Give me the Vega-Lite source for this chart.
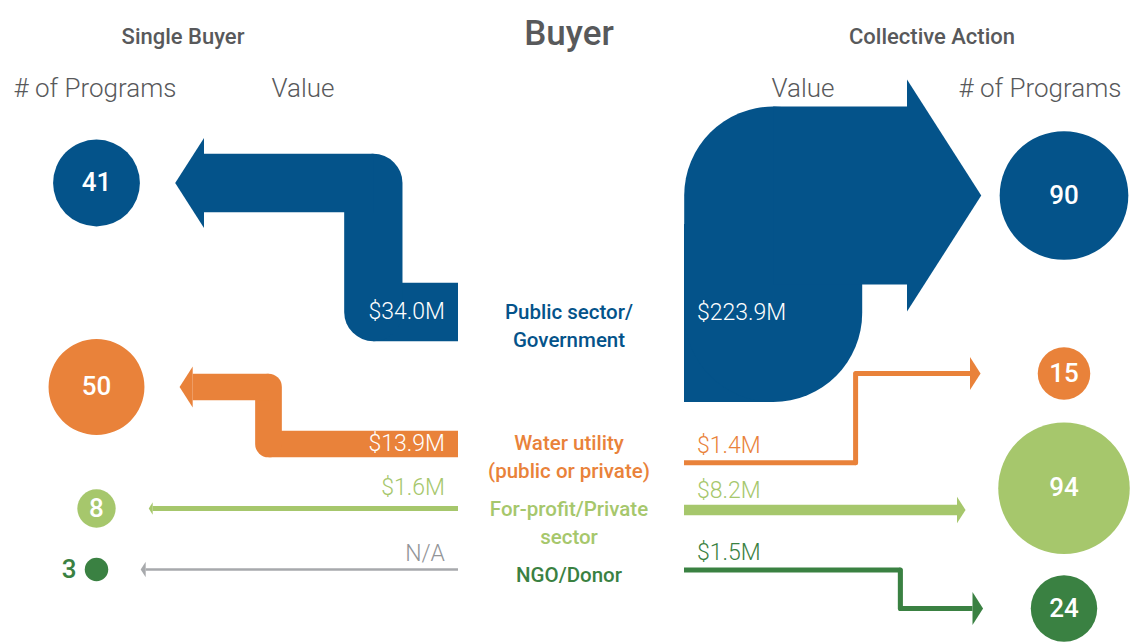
{
"$schema": "https://vega.github.io/schema/vega-lite/v6.json",
"width": 1135, "height": 643,
"autosize": {"type": "none"}, "padding": 0,
"background": "#ffffff",
"config": {"view": {"stroke": null}, "axis": {"disable": true}, "legend": {"disable": true}},
"datasets": {
  "flows": [
    {"side": "Single Buyer", "buyer": "Public sector/Government", "programs": 41, "value": 34.0, "valueText": "$34.0M"},
    {"side": "Single Buyer", "buyer": "Water utility (public or private)", "programs": 50, "value": 13.9, "valueText": "$13.9M"},
    {"side": "Single Buyer", "buyer": "For-profit/Private sector", "programs": 8, "value": 1.6, "valueText": "$1.6M"},
    {"side": "Single Buyer", "buyer": "NGO/Donor", "programs": 3, "value": null, "valueText": "N/A"},
    {"side": "Collective Action", "buyer": "Public sector/Government", "programs": 90, "value": 223.9, "valueText": "$223.9M"},
    {"side": "Collective Action", "buyer": "Water utility (public or private)", "programs": 15, "value": 1.4, "valueText": "$1.4M"},
    {"side": "Collective Action", "buyer": "For-profit/Private sector", "programs": 94, "value": 8.2, "valueText": "$8.2M"},
    {"side": "Collective Action", "buyer": "NGO/Donor", "programs": 24, "value": 1.5, "valueText": "$1.5M"}
  ],
  "buyers": [
    {"buyer": "Public sector/Government", "lines": ["Public sector/", "Government"]},
    {"buyer": "Water utility (public or private)", "lines": ["Water utility", "(public or private)"]},
    {"buyer": "For-profit/Private sector", "lines": ["For-profit/Private", "sector"]},
    {"buyer": "NGO/Donor", "lines": ["NGO/Donor"]}
  ],
  "headings": [
    {"text": "Single Buyer", "kind": "side", "side": "Single Buyer"},
    {"text": "Buyer", "kind": "title", "side": "Buyer"},
    {"text": "Collective Action", "kind": "side", "side": "Collective Action"},
    {"text": "# of Programs", "kind": "column", "side": "Single Buyer"},
    {"text": "Value", "kind": "column", "side": "Single Buyer"},
    {"text": "Value", "kind": "column", "side": "Collective Action"},
    {"text": "# of Programs", "kind": "column", "side": "Collective Action"}
  ]
},
"data": {"name": "flows"},
"resolve": {"scale": {"x": "independent", "y": "independent", "size": "independent"}},
"layer": [
  {"data": {"name": "headings"}, "transform": [{"filter": {"field": "kind", "equal": "side"}}],
   "mark": {"type": "text", "font": "Roboto, sans-serif", "fontWeight": 500, "fontSize": 22, "baseline": "alphabetic", "color": "#58595b"},
   "encoding": {
     "x": {"field": "text", "type": "nominal", "scale": {"type": "point", "domain": ["Single Buyer", "Collective Action"], "range": [183, 932], "padding": 0}},
     "y": {"field": "kind", "type": "nominal", "scale": {"type": "point", "domain": ["side"], "range": [44, 44], "padding": 0}},
     "text": {"field": "text", "type": "nominal"}}},
  {"data": {"name": "headings"}, "transform": [{"filter": {"field": "kind", "equal": "title"}}],
   "mark": {"type": "text", "font": "Roboto, sans-serif", "fontWeight": 500, "fontSize": 35, "baseline": "alphabetic", "color": "#58595b"},
   "encoding": {
     "x": {"field": "text", "type": "nominal", "scale": {"type": "point", "domain": ["Buyer"], "range": [569, 569], "padding": 0}},
     "y": {"field": "kind", "type": "nominal", "scale": {"type": "point", "domain": ["title"], "range": [45, 45], "padding": 0}},
     "text": {"field": "text", "type": "nominal"}}},
  {"data": {"name": "headings"}, "transform": [{"filter": {"and": [{"field": "kind", "equal": "column"}, {"field": "side", "equal": "Single Buyer"}]}}],
   "mark": {"type": "text", "font": "Roboto, Open Sans, sans-serif", "fontWeight": 300, "fontSize": 26, "baseline": "alphabetic", "color": "#58595b"},
   "encoding": {
     "x": {"field": "text", "type": "nominal", "scale": {"type": "point", "domain": ["# of Programs", "Value"], "range": [95, 303], "padding": 0}},
     "y": {"field": "kind", "type": "nominal", "scale": {"type": "point", "domain": ["column"], "range": [96.5, 96.5], "padding": 0}},
     "text": {"field": "text", "type": "nominal"}}},
  {"data": {"name": "headings"}, "transform": [{"filter": {"and": [{"field": "kind", "equal": "column"}, {"field": "side", "equal": "Collective Action"}]}}],
   "mark": {"type": "text", "font": "Roboto, Open Sans, sans-serif", "fontWeight": 300, "fontSize": 26, "baseline": "alphabetic", "color": "#58595b"},
   "encoding": {
     "x": {"field": "text", "type": "nominal", "scale": {"type": "point", "domain": ["Value", "# of Programs"], "range": [803, 1040], "padding": 0}},
     "y": {"field": "kind", "type": "nominal", "scale": {"type": "point", "domain": ["column"], "range": [96.5, 96.5], "padding": 0}},
     "text": {"field": "text", "type": "nominal"}}},
  {"data": {"name": "buyers"},
   "mark": {"type": "text", "font": "Roboto, sans-serif", "fontWeight": 500, "fontSize": 20.5, "lineHeight": 28, "baseline": "middle", "align": "center"},
   "encoding": {
     "x": {"datum": "Buyer", "scale": {"type": "point", "domain": ["Buyer"], "range": [569, 569], "padding": 0}},
     "y": {"field": "buyer", "type": "nominal", "scale": {"type": "point", "domain": ["Public sector/Government", "_1", "Water utility (public or private)", "For-profit/Private sector", "NGO/Donor"], "range": [312.5, 576], "padding": 0}},
     "text": {"field": "lines", "type": "nominal"},
     "color": {"field": "buyer", "type": "nominal", "scale": {"domain": ["Public sector/Government", "Water utility (public or private)", "For-profit/Private sector", "NGO/Donor"], "range": ["#04538a", "#e9823a", "#a6c76c", "#3a8142"]}}}},

  {"transform": [{"filter": {"and": [{"field": "side", "equal": "Single Buyer"}, {"field": "buyer", "equal": "Public sector/Government"}]}}],
   "resolve": {"scale": {"x": "independent", "size": "independent"}},
   "layer": [
    {"layer": [
      {"mark": {"type": "rule", "strokeCap": "butt"}, "encoding": {
        "x": {"datum": "start", "scale": {"type": "point", "domain": ["base", "_1", "elbow", "start"], "range": [204, 458], "padding": 0}},
        "x2": {"datum": "elbow"},
        "y": {"datum": "label", "scale": {"type": "point", "domain": ["end", "label"], "range": [183, 312], "padding": 0}},
        "color": {"field": "buyer", "type": "nominal"},
        "strokeWidth": {"field": "value", "type": "quantitative", "scale": {"domain": [1.4, 8.2, 13.9, 34, 223.9], "range": [5, 10.7, 26.7, 58.3, 178]}}}},
      {"mark": {"type": "rule", "strokeCap": "round"}, "encoding": {
        "x": {"datum": "elbow"}, "y": {"datum": "label"}, "y2": {"datum": "end"},
        "color": {"field": "buyer", "type": "nominal"},
        "strokeWidth": {"field": "value", "type": "quantitative"}}},
      {"mark": {"type": "rule", "strokeCap": "butt"}, "encoding": {
        "x": {"datum": "elbow"}, "x2": {"datum": "base"}, "y": {"datum": "end"},
        "color": {"field": "buyer", "type": "nominal"},
        "strokeWidth": {"field": "value", "type": "quantitative"}}},
      {"mark": {"type": "point", "shape": "M0,-1L-0.64,0L0,1Z", "filled": true, "opacity": 1}, "encoding": {
        "x": {"datum": "base"}, "y": {"datum": "end"},
        "color": {"field": "buyer", "type": "nominal"},
        "size": {"field": "value", "type": "quantitative", "scale": {"domain": [1.6, 13.9, 34], "range": [151, 1681, 8100]}}}},
      {"mark": {"type": "text", "align": "right", "baseline": "middle", "dx": -13, "font": "Roboto, Open Sans, sans-serif", "fontWeight": 300, "fontSize": 23, "color": "#ffffff"}, "encoding": {
        "x": {"datum": "start"}, "y": {"datum": "label"}, "text": {"field": "valueText", "type": "nominal"}}}
    ]},
    {"layer": [
      {"mark": {"type": "circle", "opacity": 1}, "encoding": {
        "x": {"field": "side", "type": "nominal", "scale": {"type": "point", "domain": ["Single Buyer", "Collective Action"], "range": [96.5, 1064], "padding": 0}},
        "y": {"datum": "end"},
        "size": {"field": "programs", "type": "quantitative", "scale": {"domain": [0, 100], "range": [0, 18390]}},
        "color": {"field": "buyer", "type": "nominal"}}},
      {"mark": {"type": "text", "font": "Roboto, sans-serif", "fontWeight": 500, "fontSize": 26, "baseline": "middle", "color": "#ffffff"}, "encoding": {
        "x": {"field": "side", "type": "nominal"}, "y": {"datum": "end"}, "text": {"field": "programs", "type": "nominal"}}}
    ]}
   ]},

  {"transform": [{"filter": {"and": [{"field": "side", "equal": "Single Buyer"}, {"field": "buyer", "equal": "Water utility (public or private)"}]}}],
   "resolve": {"scale": {"x": "independent", "size": "independent"}},
   "layer": [
    {"layer": [
      {"mark": {"type": "rule", "strokeCap": "butt"}, "encoding": {
        "x": {"datum": "start", "scale": {"type": "point", "domain": ["base", "_1", "elbow", "_2", "_3", "_4", "_5", "start"], "range": [192.7, 458], "padding": 0}},
        "x2": {"datum": "elbow"},
        "y": {"datum": "label", "scale": {"type": "point", "domain": ["end", "label"], "range": [387, 444], "padding": 0}},
        "color": {"field": "buyer", "type": "nominal"},
        "strokeWidth": {"field": "value", "type": "quantitative", "scale": {"domain": [1.4, 8.2, 13.9, 34, 223.9], "range": [5, 10.7, 26.7, 58.3, 178]}}}},
      {"mark": {"type": "rule", "strokeCap": "round"}, "encoding": {
        "x": {"datum": "elbow"}, "y": {"datum": "label"}, "y2": {"datum": "end"},
        "color": {"field": "buyer", "type": "nominal"},
        "strokeWidth": {"field": "value", "type": "quantitative"}}},
      {"mark": {"type": "rule", "strokeCap": "butt"}, "encoding": {
        "x": {"datum": "elbow"}, "x2": {"datum": "base"}, "y": {"datum": "end"},
        "color": {"field": "buyer", "type": "nominal"},
        "strokeWidth": {"field": "value", "type": "quantitative"}}},
      {"mark": {"type": "point", "shape": "M0,-1L-0.64,0L0,1Z", "filled": true, "opacity": 1}, "encoding": {
        "x": {"datum": "base"}, "y": {"datum": "end"},
        "color": {"field": "buyer", "type": "nominal"},
        "size": {"field": "value", "type": "quantitative", "scale": {"domain": [1.6, 13.9, 34], "range": [151, 1681, 8100]}}}},
      {"mark": {"type": "text", "align": "right", "baseline": "middle", "dx": -13, "font": "Roboto, Open Sans, sans-serif", "fontWeight": 300, "fontSize": 23, "color": "#ffffff"}, "encoding": {
        "x": {"datum": "start"}, "y": {"datum": "label"}, "text": {"field": "valueText", "type": "nominal"}}}
    ]},
    {"layer": [
      {"mark": {"type": "circle", "opacity": 1}, "encoding": {
        "x": {"field": "side", "type": "nominal", "scale": {"type": "point", "domain": ["Single Buyer", "Collective Action"], "range": [96.5, 1064], "padding": 0}},
        "y": {"datum": "end"},
        "size": {"field": "programs", "type": "quantitative", "scale": {"domain": [0, 100], "range": [0, 18390]}},
        "color": {"field": "buyer", "type": "nominal"}}},
      {"mark": {"type": "text", "font": "Roboto, sans-serif", "fontWeight": 500, "fontSize": 26, "baseline": "middle", "color": "#ffffff"}, "encoding": {
        "x": {"field": "side", "type": "nominal"}, "y": {"datum": "end"}, "text": {"field": "programs", "type": "nominal"}}}
    ]}
   ]},

  {"transform": [{"filter": {"and": [{"field": "side", "equal": "Single Buyer"}, {"field": "buyer", "equal": "For-profit/Private sector"}]}}],
   "resolve": {"scale": {"x": "independent", "size": "independent"}},
   "layer": [
    {"layer": [
      {"mark": {"type": "rule", "strokeCap": "butt"}, "encoding": {
        "x": {"datum": "start", "scale": {"type": "point", "domain": ["base", "start"], "range": [152.7, 458], "padding": 0}},
        "x2": {"datum": "base"},
        "y": {"datum": "label", "scale": {"type": "point", "domain": ["label"], "range": [508.5, 508.5], "padding": 0}},
        "color": {"field": "buyer", "type": "nominal"},
        "strokeWidth": {"field": "value", "type": "quantitative", "scale": {"domain": [1.4, 8.2, 13.9, 34, 223.9], "range": [5, 10.7, 26.7, 58.3, 178]}}}},
      {"mark": {"type": "point", "shape": "M0,-1L-0.64,0L0,1Z", "filled": true, "opacity": 1}, "encoding": {
        "x": {"datum": "base"}, "y": {"datum": "label"},
        "color": {"field": "buyer", "type": "nominal"},
        "size": {"field": "value", "type": "quantitative", "scale": {"domain": [1.6, 13.9, 34], "range": [151, 1681, 8100]}}}},
      {"mark": {"type": "text", "align": "right", "baseline": "middle", "dx": -13, "dy": -21, "font": "Roboto, Open Sans, sans-serif", "fontWeight": 300, "fontSize": 23}, "encoding": {
        "x": {"datum": "start"}, "y": {"datum": "label"}, "text": {"field": "valueText", "type": "nominal"},
        "color": {"field": "buyer", "type": "nominal"}}}
    ]},
    {"layer": [
      {"mark": {"type": "circle", "opacity": 1}, "encoding": {
        "x": {"field": "side", "type": "nominal", "scale": {"type": "point", "domain": ["Single Buyer", "Collective Action"], "range": [96.5, 1064], "padding": 0}},
        "y": {"datum": "label"},
        "size": {"field": "programs", "type": "quantitative", "scale": {"domain": [0, 100], "range": [0, 18390]}},
        "color": {"field": "buyer", "type": "nominal"}}},
      {"mark": {"type": "text", "font": "Roboto, sans-serif", "fontWeight": 500, "fontSize": 26, "baseline": "middle", "color": "#ffffff"}, "encoding": {
        "x": {"field": "side", "type": "nominal"}, "y": {"datum": "label"}, "text": {"field": "programs", "type": "nominal"}}}
    ]}
   ]},

  {"transform": [{"filter": {"and": [{"field": "side", "equal": "Single Buyer"}, {"field": "buyer", "equal": "NGO/Donor"}]}}],
   "resolve": {"scale": {"x": "independent", "size": "independent"}},
   "layer": [
    {"layer": [
      {"mark": {"type": "rule", "strokeCap": "butt", "strokeWidth": 2.5, "color": "#a7a9ac"}, "encoding": {
        "x": {"datum": "start", "scale": {"type": "point", "domain": ["base", "start"], "range": [145.7, 458], "padding": 0}},
        "x2": {"datum": "base"},
        "y": {"datum": "label", "scale": {"type": "point", "domain": ["label"], "range": [569.5, 569.5], "padding": 0}}}},
      {"mark": {"type": "point", "shape": "M0,-1L-0.64,0L0,1Z", "filled": true, "opacity": 1, "size": 246, "color": "#a7a9ac"}, "encoding": {
        "x": {"datum": "base"}, "y": {"datum": "label"}}},
      {"mark": {"type": "text", "align": "right", "baseline": "middle", "dx": -13, "dy": -16, "font": "Roboto, Open Sans, sans-serif", "fontWeight": 300, "fontSize": 23, "color": "#939598"}, "encoding": {
        "x": {"datum": "start"}, "y": {"datum": "label"}, "text": {"field": "valueText", "type": "nominal"}}}
    ]},
    {"layer": [
      {"mark": {"type": "circle", "opacity": 1}, "encoding": {
        "x": {"field": "side", "type": "nominal", "scale": {"type": "point", "domain": ["Single Buyer", "Collective Action"], "range": [96.5, 1064], "padding": 0}},
        "y": {"datum": "label"},
        "size": {"field": "programs", "type": "quantitative", "scale": {"domain": [0, 100], "range": [0, 18390]}},
        "color": {"field": "buyer", "type": "nominal"}}},
      {"mark": {"type": "text", "font": "Roboto, sans-serif", "fontWeight": 500, "fontSize": 26, "baseline": "middle", "align": "right", "dx": -20}, "encoding": {
        "x": {"field": "side", "type": "nominal"}, "y": {"datum": "label"}, "text": {"field": "programs", "type": "nominal"},
        "color": {"field": "buyer", "type": "nominal"}}}
    ]}
   ]},

  {"transform": [{"filter": {"and": [{"field": "side", "equal": "Collective Action"}, {"field": "buyer", "equal": "Public sector/Government"}]}}],
   "resolve": {"scale": {"x": "independent", "size": "independent"}},
   "layer": [
    {"layer": [
      {"mark": {"type": "rule", "strokeCap": "butt"}, "encoding": {
        "x": {"datum": "start", "scale": {"type": "point", "domain": ["start", "_1", "elbow", "_2", "_3", "base"], "range": [684, 907], "padding": 0}},
        "x2": {"datum": "elbow"},
        "y": {"datum": "label", "scale": {"type": "point", "domain": ["end", "label"], "range": [195.5, 313], "padding": 0}},
        "color": {"field": "buyer", "type": "nominal"},
        "strokeWidth": {"field": "value", "type": "quantitative", "scale": {"domain": [1.4, 8.2, 13.9, 34, 223.9], "range": [5, 10.7, 26.7, 58.3, 178]}}}},
      {"mark": {"type": "rule", "strokeCap": "round"}, "encoding": {
        "x": {"datum": "elbow"}, "y": {"datum": "label"}, "y2": {"datum": "end"},
        "color": {"field": "buyer", "type": "nominal"},
        "strokeWidth": {"field": "value", "type": "quantitative"}}},
      {"mark": {"type": "rule", "strokeCap": "butt"}, "encoding": {
        "x": {"datum": "elbow"}, "x2": {"datum": "base"}, "y": {"datum": "end"},
        "color": {"field": "buyer", "type": "nominal"},
        "strokeWidth": {"field": "value", "type": "quantitative"}}},
      {"mark": {"type": "point", "shape": "M0,-1L0.64,0L0,1Z", "filled": true, "opacity": 1}, "encoding": {
        "x": {"datum": "base"}, "y": {"datum": "end"},
        "color": {"field": "buyer", "type": "nominal"},
        "size": {"field": "value", "type": "quantitative", "scale": {"domain": [1.4, 1.5, 8.2, 223.9], "range": [1089, 1089, 713, 53824]}}}},
      {"mark": {"type": "text", "align": "left", "baseline": "middle", "dx": 13, "font": "Roboto, Open Sans, sans-serif", "fontWeight": 300, "fontSize": 23, "color": "#ffffff"}, "encoding": {
        "x": {"datum": "start"}, "y": {"datum": "label"}, "text": {"field": "valueText", "type": "nominal"}}}
    ]},
    {"layer": [
      {"mark": {"type": "circle", "opacity": 1}, "encoding": {
        "x": {"field": "side", "type": "nominal", "scale": {"type": "point", "domain": ["Single Buyer", "Collective Action"], "range": [96.5, 1064], "padding": 0}},
        "y": {"datum": "end"},
        "size": {"field": "programs", "type": "quantitative", "scale": {"domain": [0, 100], "range": [0, 18390]}},
        "color": {"field": "buyer", "type": "nominal"}}},
      {"mark": {"type": "text", "font": "Roboto, sans-serif", "fontWeight": 500, "fontSize": 26, "baseline": "middle", "color": "#ffffff"}, "encoding": {
        "x": {"field": "side", "type": "nominal"}, "y": {"datum": "end"}, "text": {"field": "programs", "type": "nominal"}}}
    ]}
   ]},

  {"transform": [{"filter": {"and": [{"field": "side", "equal": "Collective Action"}, {"field": "buyer", "equal": "Water utility (public or private)"}]}}],
   "resolve": {"scale": {"x": "independent", "size": "independent"}},
   "layer": [
    {"layer": [
      {"mark": {"type": "rule", "strokeCap": "butt"}, "encoding": {
        "x": {"datum": "start", "scale": {"type": "point", "domain": ["start", "_1", "_2", "elbow", "_3", "base"], "range": [684, 970], "padding": 0}},
        "x2": {"datum": "elbow"},
        "y": {"datum": "label", "scale": {"type": "point", "domain": ["end", "label"], "range": [373.5, 462.7], "padding": 0}},
        "color": {"field": "buyer", "type": "nominal"},
        "strokeWidth": {"field": "value", "type": "quantitative", "scale": {"domain": [1.4, 8.2, 13.9, 34, 223.9], "range": [5, 10.7, 26.7, 58.3, 178]}}}},
      {"mark": {"type": "rule", "strokeCap": "round"}, "encoding": {
        "x": {"datum": "elbow"}, "y": {"datum": "label"}, "y2": {"datum": "end"},
        "color": {"field": "buyer", "type": "nominal"},
        "strokeWidth": {"field": "value", "type": "quantitative"}}},
      {"mark": {"type": "rule", "strokeCap": "butt"}, "encoding": {
        "x": {"datum": "elbow"}, "x2": {"datum": "base"}, "y": {"datum": "end"},
        "color": {"field": "buyer", "type": "nominal"},
        "strokeWidth": {"field": "value", "type": "quantitative"}}},
      {"mark": {"type": "point", "shape": "M0,-1L0.64,0L0,1Z", "filled": true, "opacity": 1}, "encoding": {
        "x": {"datum": "base"}, "y": {"datum": "end"},
        "color": {"field": "buyer", "type": "nominal"},
        "size": {"field": "value", "type": "quantitative", "scale": {"domain": [1.4, 1.5, 8.2, 223.9], "range": [1089, 1089, 713, 53824]}}}},
      {"mark": {"type": "text", "align": "left", "baseline": "middle", "dx": 13, "dy": -17, "font": "Roboto, Open Sans, sans-serif", "fontWeight": 300, "fontSize": 23}, "encoding": {
        "x": {"datum": "start"}, "y": {"datum": "label"}, "text": {"field": "valueText", "type": "nominal"},
        "color": {"field": "buyer", "type": "nominal"}}}
    ]},
    {"layer": [
      {"mark": {"type": "circle", "opacity": 1}, "encoding": {
        "x": {"field": "side", "type": "nominal", "scale": {"type": "point", "domain": ["Single Buyer", "Collective Action"], "range": [96.5, 1064], "padding": 0}},
        "y": {"datum": "end"},
        "size": {"field": "programs", "type": "quantitative", "scale": {"domain": [0, 100], "range": [0, 18390]}},
        "color": {"field": "buyer", "type": "nominal"}}},
      {"mark": {"type": "text", "font": "Roboto, sans-serif", "fontWeight": 500, "fontSize": 26, "baseline": "middle", "color": "#ffffff"}, "encoding": {
        "x": {"field": "side", "type": "nominal"}, "y": {"datum": "end"}, "text": {"field": "programs", "type": "nominal"}}}
    ]}
   ]},

  {"transform": [{"filter": {"and": [{"field": "side", "equal": "Collective Action"}, {"field": "buyer", "equal": "For-profit/Private sector"}]}}],
   "resolve": {"scale": {"x": "independent", "size": "independent"}},
   "layer": [
    {"layer": [
      {"mark": {"type": "rule", "strokeCap": "butt"}, "encoding": {
        "x": {"datum": "start", "scale": {"type": "point", "domain": ["start", "base"], "range": [684, 957], "padding": 0}},
        "x2": {"datum": "base"},
        "y": {"datum": "label", "scale": {"type": "point", "domain": ["circle", "label"], "range": [488.3, 510], "padding": 0}},
        "color": {"field": "buyer", "type": "nominal"},
        "strokeWidth": {"field": "value", "type": "quantitative", "scale": {"domain": [1.4, 8.2, 13.9, 34, 223.9], "range": [5, 10.7, 26.7, 58.3, 178]}}}},
      {"mark": {"type": "point", "shape": "M0,-1L0.64,0L0,1Z", "filled": true, "opacity": 1}, "encoding": {
        "x": {"datum": "base"}, "y": {"datum": "label"},
        "color": {"field": "buyer", "type": "nominal"},
        "size": {"field": "value", "type": "quantitative", "scale": {"domain": [1.4, 1.5, 8.2, 223.9], "range": [1089, 1089, 713, 53824]}}}},
      {"mark": {"type": "text", "align": "left", "baseline": "middle", "dx": 13, "dy": -19, "font": "Roboto, Open Sans, sans-serif", "fontWeight": 300, "fontSize": 23}, "encoding": {
        "x": {"datum": "start"}, "y": {"datum": "label"}, "text": {"field": "valueText", "type": "nominal"},
        "color": {"field": "buyer", "type": "nominal"}}}
    ]},
    {"layer": [
      {"mark": {"type": "circle", "opacity": 1}, "encoding": {
        "x": {"field": "side", "type": "nominal", "scale": {"type": "point", "domain": ["Single Buyer", "Collective Action"], "range": [96.5, 1064], "padding": 0}},
        "y": {"datum": "circle"},
        "size": {"field": "programs", "type": "quantitative", "scale": {"domain": [0, 100], "range": [0, 18390]}},
        "color": {"field": "buyer", "type": "nominal"}}},
      {"mark": {"type": "text", "font": "Roboto, sans-serif", "fontWeight": 500, "fontSize": 26, "baseline": "middle", "color": "#ffffff"}, "encoding": {
        "x": {"field": "side", "type": "nominal"}, "y": {"datum": "circle"}, "text": {"field": "programs", "type": "nominal"}}}
    ]}
   ]},

  {"transform": [{"filter": {"and": [{"field": "side", "equal": "Collective Action"}, {"field": "buyer", "equal": "NGO/Donor"}]}}],
   "resolve": {"scale": {"x": "independent", "size": "independent"}},
   "layer": [
    {"layer": [
      {"mark": {"type": "rule", "strokeCap": "butt"}, "encoding": {
        "x": {"datum": "start", "scale": {"type": "point", "domain": ["start", "_1", "_2", "elbow", "base"], "range": [684, 972.5], "padding": 0}},
        "x2": {"datum": "elbow"},
        "y": {"datum": "label", "scale": {"type": "point", "domain": ["label", "end"], "range": [570, 608.5], "padding": 0}},
        "color": {"field": "buyer", "type": "nominal"},
        "strokeWidth": {"field": "value", "type": "quantitative", "scale": {"domain": [1.4, 8.2, 13.9, 34, 223.9], "range": [5, 10.7, 26.7, 58.3, 178]}}}},
      {"mark": {"type": "rule", "strokeCap": "round"}, "encoding": {
        "x": {"datum": "elbow"}, "y": {"datum": "label"}, "y2": {"datum": "end"},
        "color": {"field": "buyer", "type": "nominal"},
        "strokeWidth": {"field": "value", "type": "quantitative"}}},
      {"mark": {"type": "rule", "strokeCap": "butt"}, "encoding": {
        "x": {"datum": "elbow"}, "x2": {"datum": "base"}, "y": {"datum": "end"},
        "color": {"field": "buyer", "type": "nominal"},
        "strokeWidth": {"field": "value", "type": "quantitative"}}},
      {"mark": {"type": "point", "shape": "M0,-1L0.64,0L0,1Z", "filled": true, "opacity": 1}, "encoding": {
        "x": {"datum": "base"}, "y": {"datum": "end"},
        "color": {"field": "buyer", "type": "nominal"},
        "size": {"field": "value", "type": "quantitative", "scale": {"domain": [1.4, 1.5, 8.2, 223.9], "range": [1089, 1089, 713, 53824]}}}},
      {"mark": {"type": "text", "align": "left", "baseline": "middle", "dx": 13, "dy": -17, "font": "Roboto, Open Sans, sans-serif", "fontWeight": 300, "fontSize": 23}, "encoding": {
        "x": {"datum": "start"}, "y": {"datum": "label"}, "text": {"field": "valueText", "type": "nominal"},
        "color": {"field": "buyer", "type": "nominal"}}}
    ]},
    {"layer": [
      {"mark": {"type": "circle", "opacity": 1}, "encoding": {
        "x": {"field": "side", "type": "nominal", "scale": {"type": "point", "domain": ["Single Buyer", "Collective Action"], "range": [96.5, 1064], "padding": 0}},
        "y": {"datum": "end"},
        "size": {"field": "programs", "type": "quantitative", "scale": {"domain": [0, 100], "range": [0, 18390]}},
        "color": {"field": "buyer", "type": "nominal"}}},
      {"mark": {"type": "text", "font": "Roboto, sans-serif", "fontWeight": 500, "fontSize": 26, "baseline": "middle", "color": "#ffffff"}, "encoding": {
        "x": {"field": "side", "type": "nominal"}, "y": {"datum": "end"}, "text": {"field": "programs", "type": "nominal"}}}
    ]}
   ]}
]
}
